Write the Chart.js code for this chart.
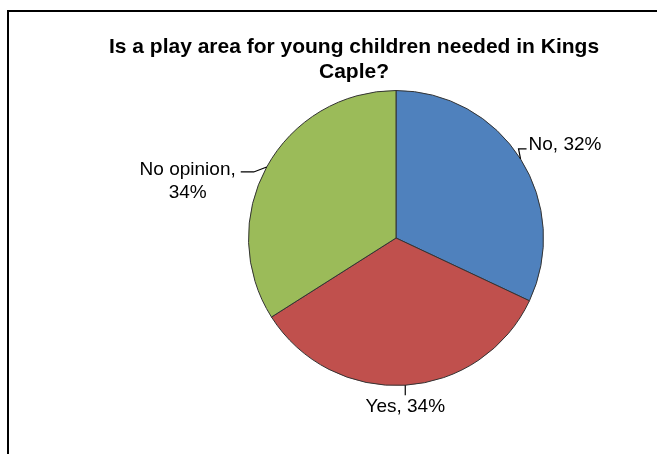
<!DOCTYPE html>
<html>
<head>
<meta charset="utf-8">
<script src="https://cdn.jsdelivr.net/npm/chart.js@4/dist/chart.umd.min.js"></script>
<style>
  body { margin: 0; background: #fff; }
  #frame {
    position: absolute; left: 7px; top: 10px;
    width: 700px; height: 500px;
    border: 2px solid #000;
  }
  #pie { position: absolute; left: 0; top: 0; }
</style>
</head>
<body>
<div id="frame"></div>
<canvas id="pie" width="657" height="454"></canvas>
<script>
const titleLines = ['Is a play area for young children needed in Kings', 'Caple?'];
const answers = ['No', 'Yes', 'No opinion'];
const shares = [32, 34, 34];
const sliceColors = ['#4F81BD', '#C0504D', '#9BBB59'];

const labelFont = '19px "Liberation Sans", Arial, sans-serif';

// title sits over the whole frame, not over the pie
const titleText = {
  id: 'titleText',
  afterDraw(chart) {
    const ctx = chart.ctx;
    ctx.save();
    ctx.fillStyle = '#000';
    ctx.font = 'bold 21px "Liberation Sans", Arial, sans-serif';
    ctx.textAlign = 'center';
    ctx.textBaseline = 'middle';
    ctx.fillText(titleLines[0], 354, 47);
    ctx.fillText(titleLines[1], 354, 72);
    ctx.restore();
  }
};

// "Name, NN%" labels with short leader lines
const sliceLabels = {
  id: 'sliceLabels',
  afterDatasetsDraw(chart) {
    const ctx = chart.ctx;
    const arcs = chart.getDatasetMeta(0).data;
    ctx.save();
    ctx.strokeStyle = '#000';
    ctx.fillStyle = '#000';
    ctx.lineWidth = 1.2;
    ctx.font = labelFont;
    ctx.textBaseline = 'middle';
    arcs.forEach((arc, i) => {
      const mid = (arc.startAngle + arc.endAngle) / 2;
      const ex = arc.x + Math.cos(mid) * arc.outerRadius;
      const ey = arc.y + Math.sin(mid) * arc.outerRadius;
      const cx = Math.cos(mid), cy = Math.sin(mid);
      ctx.beginPath();
      ctx.moveTo(ex, ey);
      if (cy > 0.9) {
        // bottom
        ctx.lineTo(ex, ey + 10);
        ctx.stroke();
        ctx.textAlign = 'center';
        ctx.fillText(answers[i] + ', ' + shares[i] + '%', ex, ey + 22);
      } else if (cx > 0) {
        // right
        ctx.lineTo(ex - 2, ey - 10);
        ctx.lineTo(ex + 6, ey - 10);
        ctx.stroke();
        ctx.textAlign = 'left';
        ctx.fillText(answers[i] + ', ' + shares[i] + '%', ex + 8, ey - 14);
      } else {
        // left, two lines
        ctx.lineTo(ex - 13, ey + 5);
        ctx.lineTo(ex - 26, ey + 5);
        ctx.stroke();
        const first = answers[i] + ',';
        const right = ex - 31;
        const w = ctx.measureText(first).width;
        ctx.textAlign = 'right';
        ctx.fillText(first, right, ey + 3);
        ctx.textAlign = 'center';
        ctx.fillText(shares[i] + '%', right - w / 2, ey + 26);
      }
    });
    ctx.restore();
  }
};

new Chart(document.getElementById('pie'), {
  type: 'pie',
  data: {
    labels: answers,
    datasets: [{
      data: shares,
      backgroundColor: sliceColors,
      borderColor: '#333',
      borderWidth: 1
    }]
  },
  options: {
    responsive: false,
    animation: false,
    layout: { padding: { left: 248, right: 113, top: 90, bottom: 68 } },
    plugins: {
      legend: { display: false },
      title: { display: false },
      tooltip: { enabled: false }
    }
  },
  plugins: [titleText, sliceLabels]
});
</script>
</body>
</html>
